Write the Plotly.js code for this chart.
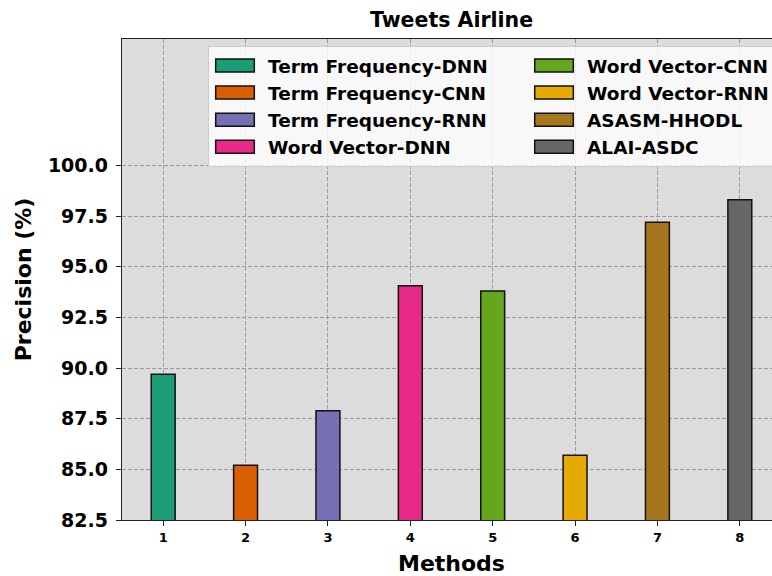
<!DOCTYPE html>
<html>
<head>
<meta charset="utf-8">
<script src="https://cdn.plot.ly/plotly-3.0.1.min.js"></script>
<style>
html, body { margin: 0; padding: 0; overflow: hidden; background: #fff; }
#chart { width: 1300px; height: 576px; }
#chart text.legendtext, #chart text.legend2text { transform: translate(19px, 0px); }
</style>
</head>
<body>
<div id="chart"></div>
<script>
const methodNames = ["Term Frequency-DNN", "Term Frequency-CNN", "Term Frequency-RNN", "Word Vector-DNN",
                     "Word Vector-CNN", "Word Vector-RNN", "ASASM-HHODL", "ALAI-ASDC"];
const methodIndex = [1, 2, 3, 4, 5, 6, 7, 8];
const precision = [89.70, 85.20, 87.90, 94.07, 93.81, 85.70, 97.20, 98.31];
const barColors = ["#1b9e77", "#d95f02", "#7570b3", "#e7298a", "#66a61e", "#e6ab02", "#a6761d", "#666666"];
const legendColumn = ["legend", "legend", "legend", "legend", "legend2", "legend2", "legend2", "legend2"];
const yTickVals = [82.5, 85.0, 87.5, 90.0, 92.5, 95.0, 97.5, 100.0];
const yTickText = ["82.5", "85.0", "87.5", "90.0", "92.5", "95.0", "97.5", "100.0"];
const xTickText = ["1", "2", "3", "4", "5", "6", "7", "8"];

const FONT = "DejaVu Sans, sans-serif";
const legendFont = { family: FONT, size: 18.5, weight: "bold", color: "#000" };

const traces = methodNames.map((name, i) => ({
  type: "bar",
  name: name,
  x: [methodIndex[i]],
  y: [precision[i]],
  width: 0.29,
  marker: { color: barColors[i], line: { color: "#111", width: 1.5 } },
  legend: legendColumn[i],
  hoverinfo: "none"
}));

const layout = {
  width: 1300,
  height: 576,
  margin: { l: 122, r: 1300 - 781, t: 39, b: 56 },
  paper_bgcolor: "#ffffff",
  plot_bgcolor: "#dcdcdc",
  showlegend: true,
  barmode: "overlay",
  title: {
    text: "Tweets Airline",
    font: { family: FONT, size: 20.5, weight: "bold", color: "#000" },
    x: 0.5, xref: "paper", xanchor: "center",
    y: 1 - 20 / 576, yref: "container", yanchor: "middle"
  },
  xaxis: {
    range: [0.5, 8.5],
    tickvals: methodIndex,
    ticktext: xTickText,
    ticks: "outside", ticklen: 5, tickwidth: 1, tickcolor: "#222",
    tickfont: { family: FONT, size: 13, weight: "bold", color: "#000" },
    showline: true, linecolor: "#222", linewidth: 1.2, mirror: true,
    showgrid: true, gridcolor: "#9a9a9a", griddash: "4px,2px", gridwidth: 1,
    zeroline: false,
    title: { text: "Methods", font: { family: FONT, size: 22, weight: "bold", color: "#000" }, standoff: 13 }
  },
  yaxis: {
    range: [82.5, 106.25],
    tickvals: yTickVals,
    ticktext: yTickText,
    ticks: "outside", ticklen: 5, tickwidth: 1, tickcolor: "#222",
    ticklabelstandoff: 4,
    tickfont: { family: FONT, size: 19, weight: "bold", color: "#000" },
    showline: true, linecolor: "#222", linewidth: 1.2, mirror: true,
    showgrid: true, gridcolor: "#9a9a9a", griddash: "4px,2px", gridwidth: 1,
    zeroline: false,
    title: { text: "Precision (%)", font: { family: FONT, size: 22, weight: "bold", color: "#000" }, standoff: 10 }
  },
  legend: {
    orientation: "h",
    x: 0.1305, xanchor: "left",
    y: 0.9854, yanchor: "top",
    entrywidth: 518, entrywidthmode: "pixels",
    bgcolor: "rgba(255,255,255,0.8)",
    bordercolor: "#cccccc", borderwidth: 1,
    font: legendFont,
    traceorder: "normal"
  },
  legend2: {
    orientation: "h",
    x: 0.6146, xanchor: "left",
    y: 0.9854, yanchor: "top",
    entrywidth: 518, entrywidthmode: "pixels",
    bgcolor: "rgba(0,0,0,0)",
    bordercolor: "rgba(0,0,0,0)", borderwidth: 1,
    font: legendFont,
    traceorder: "normal"
  }
};

function widenLegendSymbols() {
  document.querySelectorAll(".legendpoints path").forEach(p => {
    p.setAttribute("d", "M25.3,6.5H-13.3V-6.5H25.3Z");
  });
}

Plotly.newPlot("chart", traces, layout, { displayModeBar: false, staticPlot: true }).then(() => {
  widenLegendSymbols();
  setTimeout(widenLegendSymbols, 50);
});
</script>
</body>
</html>
